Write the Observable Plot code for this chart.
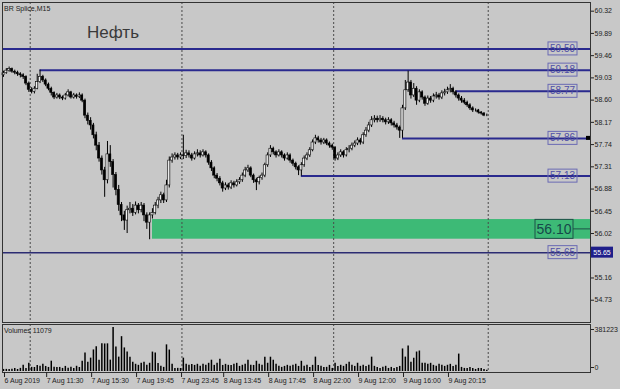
<!DOCTYPE html>
<html>
<head>
<meta charset="utf-8">
<script src="https://cdn.jsdelivr.net/npm/d3@7"></script>
<script src="https://cdn.jsdelivr.net/npm/@observablehq/plot@0.6"></script>
<style>
  html, body { margin: 0; padding: 0; background: #c8c8c8; }
  #chart { position: relative; width: 620px; height: 389px; overflow: hidden; background: #c8c8c8;
           font-family: "Liberation Sans", Arial, sans-serif; }
  #chart svg { position: absolute; left: 0; }
</style>
</head>
<body>
<div id="chart"></div>
<script>
// Brent (BR Splice), 15-minute bars, 6–9 Aug 2019
const symbol = "BR Splice,M15";
const title = "Нефть";

const opens = [
  59.08,59.12,59.17,59.20,59.15,59.13,59.10,59.08,59.05,58.92,
  58.80,58.76,58.82,58.95,59.05,58.98,58.90,58.82,58.74,58.65,
  58.69,58.65,58.63,58.69,58.75,58.65,58.69,58.66,58.69,58.59,
  58.30,58.20,58.11,57.92,57.72,57.47,57.24,57.05,57.55,57.40,
  57.15,56.86,56.57,56.37,56.27,56.47,56.50,56.42,56.56,56.47,
  56.56,56.37,56.23,56.37,56.42,56.56,56.66,56.76,56.66,56.95,
  57.43,57.49,57.53,57.49,57.53,57.52,57.57,57.53,57.47,57.55,
  57.57,57.53,57.59,57.53,57.39,57.28,57.14,57.08,56.99,56.89,
  56.95,56.91,56.99,56.95,57.01,57.05,57.14,57.24,57.28,57.14,
  57.05,57.01,57.09,57.14,57.34,57.53,57.66,57.59,57.53,57.59,
  57.53,57.47,57.53,57.43,57.37,57.30,57.24,57.34,57.47,57.53,
  57.63,57.78,57.86,57.82,57.78,57.82,57.76,57.72,57.68,57.47,
  57.53,57.59,57.53,57.63,57.66,57.72,57.76,57.82,57.78,57.92,
  58.01,58.11,58.21,58.24,58.21,58.24,58.21,58.17,58.21,58.15,
  58.11,58.07,58.01,58.44,58.79,58.94,58.69,58.82,58.59,58.75,
  58.65,58.53,58.63,58.59,58.67,58.69,58.65,58.73,58.75,58.79,
  58.82,58.75,58.69,58.63,58.59,58.55,58.50,58.44,58.40,58.40,
  58.36,58.34,58.30
];
const highs = [
  59.16,59.21,59.24,59.22,59.18,59.16,59.13,59.11,59.07,58.95,
  58.84,58.86,59.10,59.18,59.08,59.01,58.93,58.85,58.76,58.73,
  58.72,58.68,58.73,58.80,58.77,58.73,58.72,58.74,58.72,58.62,
  58.35,58.26,58.15,57.98,57.78,57.52,57.30,57.80,57.72,57.45,
  57.20,56.95,56.62,56.45,56.55,56.62,56.58,56.63,56.60,56.62,
  56.60,56.42,56.42,56.50,56.62,56.72,56.82,56.80,57.05,57.50,
  57.56,57.58,57.57,57.58,57.92,57.63,57.62,57.57,57.60,57.64,
  57.62,57.64,57.62,57.56,57.43,57.31,57.18,57.12,57.03,57.00,
  56.99,57.04,57.03,57.06,57.10,57.19,57.30,57.34,57.31,57.17,
  57.09,57.13,57.19,57.38,57.58,57.72,57.69,57.62,57.64,57.62,
  57.56,57.58,57.56,57.46,57.40,57.33,57.39,57.52,57.58,57.68,
  57.83,57.92,57.90,57.86,57.86,57.85,57.79,57.75,57.70,57.58,
  57.64,57.62,57.68,57.72,57.77,57.81,57.87,57.86,57.97,58.07,
  58.17,58.28,58.30,58.29,58.30,58.28,58.25,58.26,58.24,58.19,
  58.15,58.10,58.50,58.98,59.16,58.98,58.92,58.86,58.80,58.78,
  58.68,58.68,58.67,58.72,58.75,58.73,58.78,58.81,58.85,58.90,
  58.85,58.78,58.72,58.67,58.63,58.58,58.53,58.47,58.43,58.42,
  58.38,58.36,58.33
];
const lows = [
  59.04,59.10,59.14,59.12,59.09,59.06,59.03,59.00,58.88,58.75,
  58.72,58.72,58.80,58.92,58.94,58.86,58.78,58.68,58.61,58.62,
  58.61,58.59,58.60,58.66,58.62,58.62,58.62,58.63,58.55,58.24,
  58.12,58.02,57.85,57.62,57.40,57.15,56.72,56.98,57.30,56.90,
  56.75,56.45,56.25,56.08,56.02,56.40,56.35,56.38,56.40,56.42,
  56.25,56.10,55.90,56.30,56.38,56.50,56.60,56.60,56.62,56.90,
  57.38,57.44,57.44,57.45,57.45,57.47,57.48,57.42,57.44,57.50,
  57.48,57.50,57.48,57.34,57.22,57.08,57.02,56.94,56.82,56.85,
  56.86,56.87,56.90,56.92,56.97,57.01,57.10,57.20,57.10,56.99,
  56.85,56.96,57.05,57.10,57.30,57.49,57.54,57.48,57.50,57.48,
  57.42,57.44,57.38,57.32,57.25,57.14,57.13,57.30,57.43,57.49,
  57.60,57.74,57.77,57.73,57.74,57.72,57.67,57.63,57.42,57.43,
  57.49,57.48,57.50,57.58,57.62,57.68,57.72,57.73,57.74,57.88,
  57.97,58.07,58.16,58.16,58.17,58.16,58.12,58.13,58.10,58.06,
  58.02,57.86,57.86,58.40,58.75,58.62,58.65,58.50,58.55,58.60,
  58.48,58.50,58.54,58.55,58.62,58.60,58.61,58.68,58.71,58.74,
  58.70,58.64,58.58,58.54,58.51,58.46,58.40,58.36,58.37,58.33,
  58.31,58.28,58.28
];
const closes = [
  59.12,59.17,59.20,59.15,59.13,59.10,59.08,59.05,58.92,58.80,
  58.76,58.82,58.95,59.05,58.98,58.90,58.82,58.74,58.65,58.69,
  58.65,58.63,58.69,58.75,58.65,58.69,58.66,58.69,58.59,58.30,
  58.20,58.11,57.92,57.72,57.47,57.24,57.05,57.55,57.40,57.15,
  56.86,56.57,56.37,56.27,56.47,56.50,56.42,56.56,56.47,56.56,
  56.37,56.23,56.37,56.42,56.56,56.66,56.76,56.66,56.95,57.43,
  57.49,57.53,57.49,57.53,57.52,57.57,57.53,57.47,57.55,57.57,
  57.53,57.59,57.53,57.39,57.28,57.14,57.08,56.99,56.89,56.95,
  56.91,56.99,56.95,57.01,57.05,57.14,57.24,57.28,57.14,57.05,
  57.01,57.09,57.14,57.34,57.53,57.66,57.59,57.53,57.59,57.53,
  57.47,57.53,57.43,57.37,57.30,57.24,57.34,57.47,57.53,57.63,
  57.78,57.86,57.82,57.78,57.82,57.76,57.72,57.68,57.47,57.53,
  57.59,57.53,57.63,57.66,57.72,57.76,57.82,57.78,57.92,58.01,
  58.11,58.21,58.24,58.21,58.24,58.21,58.17,58.21,58.15,58.11,
  58.07,58.01,58.44,58.79,58.94,58.69,58.82,58.59,58.75,58.65,
  58.53,58.63,58.59,58.67,58.69,58.65,58.73,58.75,58.79,58.82,
  58.75,58.69,58.63,58.59,58.55,58.50,58.44,58.40,58.40,58.36,
  58.34,58.30,58.30
];
const volumes = [
  17900,18300,16800,19500,26400,17200,27100,53600,25800,71200,
  35800,34600,52700,44900,62400,43800,35100,89300,36200,34400,
  35300,26900,44100,27400,36100,26100,45200,34800,88100,160300,
  80400,115800,186900,213500,97100,240200,238600,239700,98400,381223,
  212100,124600,301800,204300,168900,123700,80100,62600,53400,70800,
  79600,53100,71400,168200,159800,70300,44600,35700,230800,185900,
  62800,26500,27300,25900,115600,62100,53800,61700,52900,62400,
  44700,62300,53600,71100,97800,53300,70600,106900,52600,61900,
  53400,52800,62500,70700,44200,53900,62100,97300,53100,52700,
  88900,61800,53300,124300,71400,123800,97600,62200,44500,35600,
  44300,53500,44800,53100,62600,44100,88400,45100,53600,35200,
  53300,124500,52900,44700,35400,35900,53100,26800,70900,44400,
  53700,44600,62000,79900,53200,44200,71300,44800,53500,44300,
  53100,124200,44500,35300,26700,35800,44900,26600,35400,26300,
  35600,44100,195400,124700,221800,79400,115200,168700,177500,71200,
  70600,62300,71000,53400,44700,61900,53200,44300,53800,62100,
  44200,53600,150900,35500,26800,26400,35200,26900,17800,26500,
  25900,18100,11079
];

// first bar of each trading session (day separators sit just before them)
const sessionStarts = [10, 64, 118, 173];

// time axis labels, placed on bar indices
const dateTickBars = [0, 15, 31, 47, 63, 78, 94, 110, 126, 142, 158];
const dateTickLabels = ["6 Aug 2019", "7 Aug 11:30", "7 Aug 15:30", "7 Aug 19:45", "7 Aug 23:45",
  "8 Aug 13:45", "8 Aug 17:45", "8 Aug 22:00", "9 Aug 12:00", "9 Aug 16:00", "9 Aug 20:15"];

// price scale labels (55.59 sits under the 55.65 price tag)
const priceTicks = [60.32, 59.89, 59.46, 59.03, 58.60, 58.17, 57.74, 57.31, 56.88, 56.45, 56.02, 55.16, 54.73];

// horizontal levels and the bar each one is drawn from (null = whole chart)
const levelValues = [59.59, 59.18, 58.77, 57.86, 57.13, 55.65];
const levelFromBar = [null, 13, 161, 142, 106, null];
const selectedLevel = 57.86;
const axisTaggedLevel = 55.65;

// support zone
const zoneLow = 55.91;
const zoneHigh = 56.29;
const zoneMid = 56.10;
const zoneFromBar = 53;

const bars = closes.map((c, i) => ({
  i, open: opens[i], high: highs[i], low: lows[i], close: c, volume: volumes[i]
}));
const levels = levelValues.map((v, k) => ({value: v, from: levelFromBar[k]}));

const xDomain = [-0.36, 208.9];
const font = "'Liberation Sans', Arial, sans-serif";
const lineBlue = "#2a2a8e";
const frameColor = "#333";
const sepStyle = {stroke: "#4a4a4a", strokeDasharray: "2,2", strokeWidth: 1};

const pricePlot = Plot.plot({
  width: 620, height: 323,
  marginTop: 2, marginBottom: 1, marginLeft: 2, marginRight: 30,
  style: {background: "transparent", fontFamily: font, overflow: "visible"},
  x: {domain: xDomain, axis: null},
  y: {domain: [54.299, 60.488]},
  color: {type: "identity"},
  marks: [
    Plot.rect([{from: zoneFromBar, low: zoneLow, high: zoneHigh}], {
      x1: "from", x2: () => xDomain[1], y1: "low", y2: "high", fill: "#3dba76"
    }),
    Plot.ruleX(sessionStarts, {x: d => d - 0.5, ...sepStyle}),
    Plot.ruleY(levels, {
      y: "value",
      x1: d => d.from ?? xDomain[0],
      x2: () => xDomain[1],
      stroke: d => d.value === axisTaggedLevel ? "#2c2c72" : lineBlue,
      strokeWidth: d => d.value === axisTaggedLevel ? 1.5 : 2
    }),
    Plot.ruleX(bars, {x: "i", y1: "low", y2: "high", stroke: "#000", strokeWidth: 1}),
    Plot.rect(bars, {
      x1: d => d.i - 0.38, x2: d => d.i + 0.38, y1: "open", y2: "close",
      fill: d => d.close > d.open ? "#f2f2f2" : "#000",
      stroke: "#000", strokeWidth: 0.6
    }),
    Plot.frame({stroke: frameColor}),
    Plot.axisY(priceTicks, {
      anchor: "right", tickSize: 3, tickPadding: 1, fontSize: 7, color: "#222",
      tickFormat: d => d.toFixed(2), label: null
    })
  ]
});

const volPlot = Plot.plot({
  width: 620, height: 67,
  marginTop: 2, marginBottom: 17, marginLeft: 2, marginRight: 30,
  style: {background: "transparent", fontFamily: font, overflow: "visible"},
  x: {domain: xDomain, axis: null},
  y: {domain: [0, d3.max(volumes)], insetTop: 3, insetBottom: 1, axis: null},
  marks: [
    Plot.ruleX(sessionStarts, {x: d => d - 0.5, ...sepStyle}),
    Plot.ruleX(bars, {x: "i", y1: 0, y2: "volume", stroke: "#000", strokeWidth: 1.5}),
    Plot.frame({stroke: frameColor}),
    Plot.axisY([d3.max(volumes)], {
      anchor: "right", tickSize: 3, tickPadding: 1, fontSize: 7, color: "#222",
      tickFormat: d => String(d), dy: 2, label: null
    }),
    Plot.axisY([0], {
      anchor: "right", tickSize: 3, tickPadding: 1, fontSize: 7, color: "#222",
      tickFormat: d => String(d), dy: -4, label: null
    }),
    Plot.axisX(dateTickBars, {
      anchor: "bottom", tickSize: 5, tickPadding: 1, fontSize: 7, color: "#222",
      textAnchor: "start", dx: 1,
      tickFormat: d => dateTickLabels[dateTickBars.indexOf(d)], label: null
    })
  ]
});

const chart = document.getElementById("chart");
pricePlot.style.top = "0px";
volPlot.style.top = "322px";
chart.appendChild(pricePlot);
chart.appendChild(volPlot);

// annotations drawn on the price panel through its y scale
const ys = pricePlot.scale("y");
const ps = d3.select(pricePlot);
const ann = ps.append("g").attr("font-family", font).attr("text-anchor", "start");

ann.append("text").attr("x", 4).attr("y", 11).attr("font-size", 7).attr("fill", "#222").text(symbol);
ann.append("text").attr("x", 87).attr("y", 38).attr("font-size", 17).attr("fill", "#3a3a3a").text(title);

for (const lv of levels) {
  const cy = ys.apply(lv.value);
  ann.append("rect").attr("x", 548).attr("y", cy - 6.5).attr("width", 29).attr("height", 13)
    .attr("fill", "none").attr("stroke", "#6a6ab4").attr("stroke-width", 1);
  ann.append("text").attr("x", 562.5).attr("y", cy).attr("dy", "0.36em")
    .attr("text-anchor", "middle").attr("font-size", 10).attr("fill", "#4e4ea6")
    .text(lv.value.toFixed(2));
  if (lv.value === selectedLevel) {
    ann.append("rect").attr("x", 586).attr("y", cy - 2).attr("width", 4).attr("height", 4).attr("fill", "#000");
  }
  if (lv.value === axisTaggedLevel) {
    ann.append("rect").attr("x", 591).attr("y", cy - 5.5).attr("width", 22).attr("height", 11).attr("fill", "#1e1e8a");
    ann.append("text").attr("x", 602).attr("y", cy).attr("dy", "0.36em").attr("text-anchor", "middle")
      .attr("font-size", 7).attr("fill", "#fff").text(lv.value.toFixed(2));
  }
}

// zone label with its leader to the price scale
{
  const cy = ys.apply(zoneMid);
  ann.append("rect").attr("x", 535).attr("y", cy - 9.5).attr("width", 38).attr("height", 19)
    .attr("fill", "none").attr("stroke", "#1f5048").attr("stroke-width", 1);
  ann.append("text").attr("x", 554).attr("y", cy).attr("dy", "0.36em").attr("text-anchor", "middle")
    .attr("font-size", 14).attr("fill", "#16484a").text(zoneMid.toFixed(2));
  ann.append("line").attr("x1", 573).attr("x2", 590).attr("y1", cy).attr("y2", cy)
    .attr("stroke", "#1f5048").attr("stroke-width", 1);
}

// volume readout of the last bar
d3.select(volPlot).append("text").attr("x", 4).attr("y", 11).attr("font-family", font)
  .attr("text-anchor", "start").attr("font-size", 7).attr("fill", "#222")
  .text("Volumes " + volumes[volumes.length - 1]);
</script>
</body>
</html>
